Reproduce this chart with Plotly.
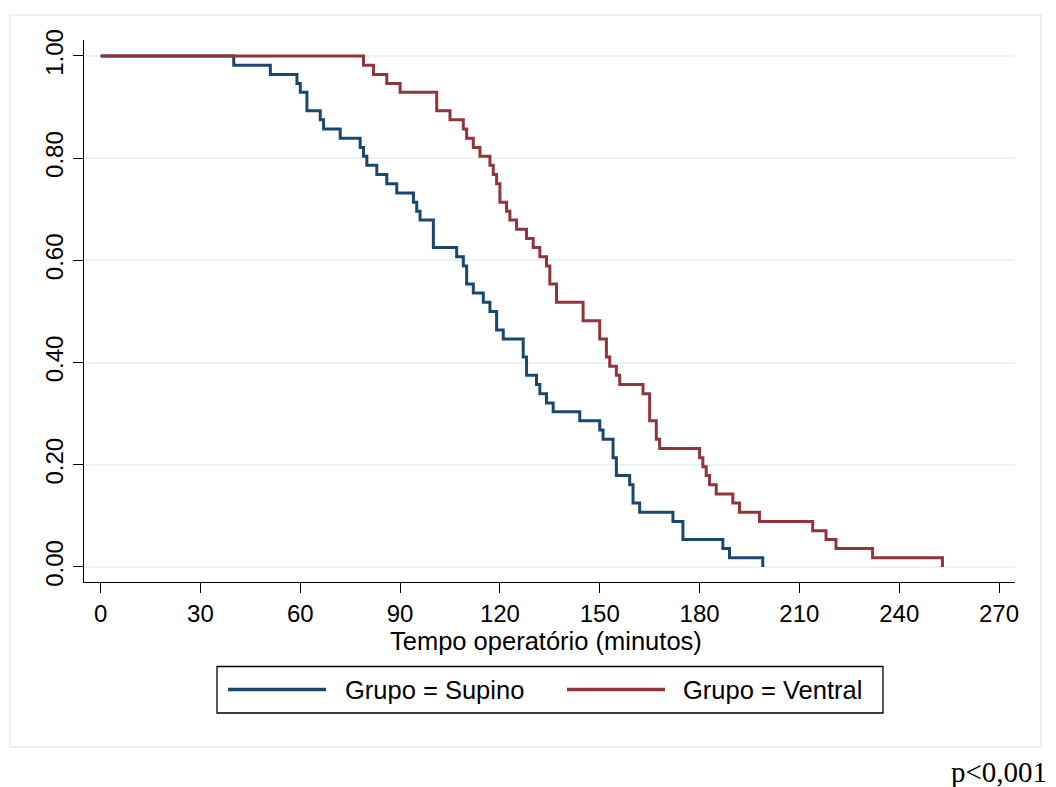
import plotly.graph_objects as go

# Kaplan-Meier step data
supino_time = [0, 40, 51, 59, 60, 62, 66, 67, 72, 78, 79, 80, 83, 86, 89, 94, 95, 96, 100, 107,
               109, 110, 112, 115, 117, 119, 121, 127, 128, 131, 132, 134, 136, 144, 150, 151,
               154, 155, 159, 160, 162, 172, 175, 187, 189, 199]
supino_surv = [1.000, 0.982, 0.964, 0.946, 0.929, 0.893, 0.875, 0.857, 0.839, 0.821, 0.804,
               0.786, 0.768, 0.750, 0.732, 0.714, 0.696, 0.679, 0.625, 0.607, 0.589, 0.554,
               0.536, 0.518, 0.500, 0.464, 0.446, 0.411, 0.375, 0.357, 0.339, 0.321, 0.304,
               0.286, 0.268, 0.250, 0.214, 0.179, 0.161, 0.125, 0.107, 0.089, 0.054, 0.036,
               0.018, 0.000]

ventral_time = [0, 79, 82, 86, 90, 101, 105, 109, 110, 112, 114, 117, 118, 119, 120, 122, 123,
                125, 128, 130, 132, 134, 135, 137, 145, 150, 152, 153, 155, 156, 163, 165, 167,
                168, 180, 181, 182, 183, 185, 190, 192, 198, 214, 218, 221, 232, 253]
ventral_surv = [1.000, 0.982, 0.964, 0.946, 0.929, 0.893, 0.875, 0.857, 0.839, 0.821, 0.804,
                0.786, 0.768, 0.750, 0.714, 0.696, 0.679, 0.661, 0.643, 0.625, 0.607, 0.589,
                0.554, 0.518, 0.482, 0.446, 0.411, 0.393, 0.375, 0.357, 0.339, 0.286, 0.250,
                0.232, 0.214, 0.196, 0.179, 0.161, 0.143, 0.125, 0.107, 0.089, 0.071, 0.054,
                0.036, 0.018, 0.000]

group_names = ["Grupo = Supino", "Grupo = Ventral"]
x_ticks = [0, 30, 60, 90, 120, 150, 180, 210, 240, 270]
y_ticks = [0.0, 0.2, 0.4, 0.6, 0.8, 1.0]
x_title = "Tempo operatório (minutos)"
p_text = "p<0,001"

FONT = "Liberation Sans, Arial, sans-serif"
BLUE = "#1a476f"
RED = "#90353b"

W, H = 1056, 787
ML, MR, MT, MB = 84, 41, 40, 205
PW, PH = W - ML - MR, H - MT - MB


def px(x):
    return (x - ML) / PW


def py(y):
    return (H - MB - y) / PH


fig = go.Figure()
fig.add_trace(go.Scatter(x=supino_time, y=supino_surv, mode="lines", line_shape="hv",
                         line=dict(color=BLUE, width=3), name=group_names[0]))
fig.add_trace(go.Scatter(x=ventral_time, y=ventral_surv, mode="lines", line_shape="hv",
                         line=dict(color=RED, width=3), name=group_names[1]))

fig.update_layout(
    width=W, height=H,
    margin=dict(l=ML, r=MR, t=MT, b=MB),
    paper_bgcolor="white", plot_bgcolor="white",
    font=dict(family=FONT, size=24, color="black"),
    showlegend=False,
    xaxis=dict(range=[-5.0, 274.8], tickvals=x_ticks, ticks="outside", ticklen=10,
               tickwidth=1.3, tickcolor="black", showline=True, linecolor="black",
               linewidth=1.3, showgrid=False, zeroline=False,
               tickfont=dict(size=24, family=FONT), automargin=False),
    yaxis=dict(range=[-0.0294, 1.0313], tickvals=y_ticks, tickformat=".2f",
               tickangle=-90, ticks="outside", ticklen=10, tickwidth=1.3,
               tickcolor="black", showline=True, linecolor="black", linewidth=1.3,
               tickfont=dict(size=24, family=FONT),
               showgrid=True, gridcolor="#eaf2f3", gridwidth=2, zeroline=False,
               automargin=False),
)

# x axis title
fig.add_annotation(text=x_title, xref="paper", yref="paper", x=px(546), y=py(641),
                   xanchor="center", yanchor="middle", showarrow=False,
                   font=dict(family=FONT, size=25.5, color="black"))

# outer light frame
fig.add_shape(type="rect", xref="paper", yref="paper",
              x0=px(10), x1=px(1041), y0=py(747), y1=py(15),
              line=dict(color="#e3ecee", width=1.5), layer="below")

# legend box (drawn to match the reference layout)
fig.add_shape(type="rect", xref="paper", yref="paper",
              x0=px(217), x1=px(883), y0=py(713), y1=py(666.5),
              line=dict(color="black", width=1.3), fillcolor="white")
legend_items = [(group_names[0], BLUE, 228, 326, 342.5),
                (group_names[1], RED, 567, 665, 681)]
for name, col, lx0, lx1, tx in legend_items:
    fig.add_shape(type="line", xref="paper", yref="paper",
                  x0=px(lx0), x1=px(lx1), y0=py(689.5), y1=py(689.5),
                  line=dict(color=col, width=3.5))
    fig.add_annotation(text=name, xref="paper", yref="paper", x=px(tx), y=py(690),
                       xanchor="left", yanchor="middle", showarrow=False,
                       font=dict(family=FONT, size=25.5, color="black"))

fig.add_annotation(text=p_text, xref="paper", yref="paper", x=px(1049), y=py(772),
                   xanchor="right", yanchor="middle", showarrow=False,
                   font=dict(family="Liberation Serif, Times New Roman, serif", size=29,
                             color="black"))

fig.write_html("out.html")
